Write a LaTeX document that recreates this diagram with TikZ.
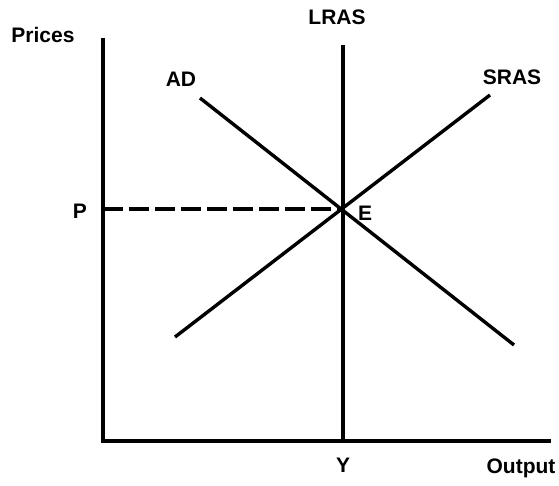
\documentclass[tikz,border=0pt]{standalone}
\usepackage{fontspec}
\setmainfont{Liberation Sans}
\begin{document}
\begin{tikzpicture}[x=1pt,y=-1pt,
  curve/.style={line width=3.4pt},
  axis/.style={line width=3.6pt},
  lbl/.style={font=\fontsize{21}{25}\selectfont\bfseries, inner sep=0pt},
  dashline/.style={line width=3.4pt, dash pattern=on 20pt off 6pt}]
\useasboundingbox (0,0) rectangle (559,485);
\fill[white] (0,0) rectangle (559,485);
\coordinate (ytop) at (103,38);
\coordinate (O) at (103,441);
\coordinate (xend) at (551,441);
\coordinate (lrastop) at (343,45);
\coordinate (Ybase) at (343,441);
\coordinate (E) at (343,209);
\coordinate (Pax) at (103,209);
\coordinate (ADa) at (200,98);
\coordinate (ADb) at (514,345);
\coordinate (SRa) at (175,337);
\coordinate (SRb) at (490,95);
\draw[axis] (ytop) -- (O) -- (xend);
\draw[curve] (lrastop) -- (Ybase);
\draw[curve] (ADa) -- (ADb);
\draw[curve] (SRa) -- (SRb);
\draw[dashline] (Pax) -- (E);
\node[lbl] (prices) at (43,35) {Prices};
\node[lbl] (adl) at (181,79) {AD};
\node[lbl] (lras) at (337,17) {LRAS};
\node[lbl] (sras) at (512,77) {SRAS};
\node[lbl] (pl) at (80,211) {P};
\node[lbl] (el) at (365,213) {E};
\node[lbl] (yl) at (343,465) {Y};
\node[lbl] (out) at (521,468) {Output};
\end{tikzpicture}
\end{document}
